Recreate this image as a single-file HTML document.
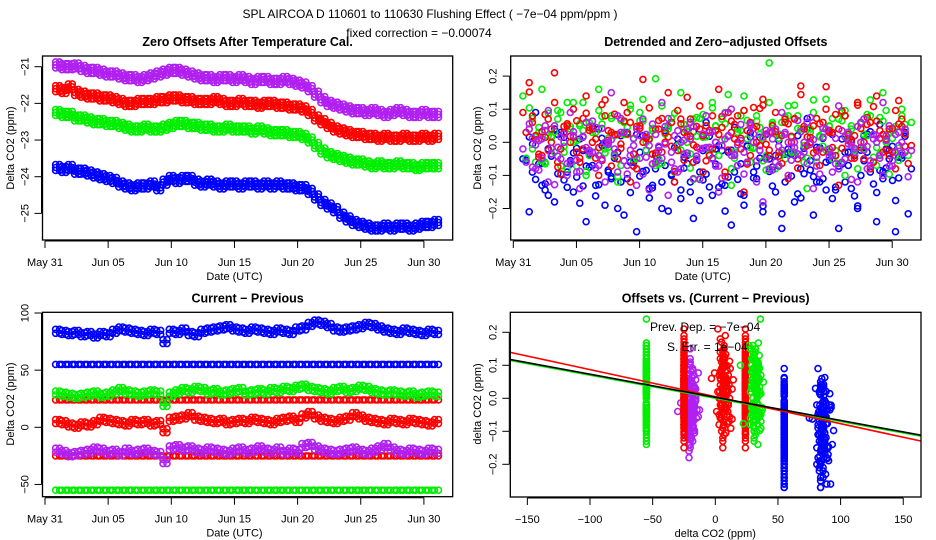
<!DOCTYPE html>
<html><head><meta charset="utf-8"><style>
html,body{margin:0;padding:0;background:#fff;}
svg{display:block;font-family:"Liberation Sans",Arial,sans-serif;}
</style></head><body>
<svg id="c" width="936" height="540" viewBox="0 0 936 540">
<text x="430" y="18" font-size="12" text-anchor="middle">SPL   AIRCOA D   110601 to 110630   Flushing Effect ( −7e−04 ppm/ppm )</text>
<text x="419" y="37" font-size="12" text-anchor="middle">fixed correction =  −0.00074</text>
</svg>
<script>
// ---------- DATA ----------
const dateTickLabels = ["May 31","Jun 05","Jun 10","Jun 15","Jun 20","Jun 25","Jun 30"];
const dateTickDays = [0,5,10,15,20,25,30];
const sampleDays = [1,1.5,2,2.5,3,3.5,4,4.5,5,5.5,6,6.5,7,7.5,8,8.5,9,9.5,10,10.5,11,11.5,12,12.5,13,13.5,14,14.5,15,15.5,16,16.5,17,17.5,18,18.5,19,19.5,20,20.5,21,21.5,22,22.5,23,23.5,24,24.5,25,25.5,26,26.5,27,27.5,28,28.5,29,29.5,30,30.5,31];

// Panel 1: zero offsets
const zeroPurple = [-20.95,-21.0,-21.0,-20.98,-21.05,-21.1,-21.1,-21.15,-21.2,-21.2,-21.25,-21.3,-21.3,-21.35,-21.3,-21.25,-21.2,-21.15,-21.1,-21.1,-21.15,-21.2,-21.25,-21.3,-21.3,-21.35,-21.3,-21.3,-21.35,-21.3,-21.35,-21.4,-21.35,-21.35,-21.4,-21.4,-21.35,-21.4,-21.45,-21.5,-21.6,-21.75,-21.9,-22.0,-22.05,-22.1,-22.15,-22.2,-22.2,-22.25,-22.2,-22.25,-22.3,-22.25,-22.2,-22.25,-22.3,-22.3,-22.25,-22.3,-22.3];
const zeroRed = [-21.6,-21.65,-21.55,-21.7,-21.75,-21.8,-21.8,-21.85,-21.85,-21.9,-21.95,-22.0,-22.0,-21.95,-21.95,-21.95,-21.9,-21.9,-21.85,-21.85,-21.9,-21.9,-21.95,-21.95,-21.95,-21.9,-21.95,-22.0,-22.0,-21.95,-22.0,-22.0,-22.05,-22.0,-22.0,-22.05,-22.05,-22.1,-22.1,-22.15,-22.25,-22.4,-22.5,-22.6,-22.7,-22.75,-22.8,-22.85,-22.85,-22.9,-22.9,-22.95,-22.9,-22.95,-22.95,-22.9,-22.95,-22.95,-22.9,-22.95,-22.9];
const zeroGreen = [-22.25,-22.3,-22.3,-22.4,-22.4,-22.45,-22.5,-22.5,-22.55,-22.55,-22.6,-22.65,-22.7,-22.7,-22.65,-22.7,-22.7,-22.65,-22.6,-22.55,-22.55,-22.6,-22.6,-22.65,-22.65,-22.7,-22.7,-22.65,-22.7,-22.7,-22.7,-22.75,-22.7,-22.75,-22.8,-22.8,-22.8,-22.85,-22.85,-22.9,-23.0,-23.15,-23.3,-23.4,-23.45,-23.5,-23.55,-23.6,-23.6,-23.65,-23.7,-23.65,-23.7,-23.7,-23.65,-23.7,-23.7,-23.75,-23.7,-23.7,-23.7];
const zeroBlue = [-23.75,-23.8,-23.75,-23.85,-23.85,-23.9,-23.95,-24.0,-24.05,-24.1,-24.2,-24.25,-24.3,-24.25,-24.25,-24.2,-24.3,-24.15,-24.05,-24.1,-24.05,-24.05,-24.15,-24.2,-24.15,-24.2,-24.25,-24.2,-24.2,-24.25,-24.2,-24.2,-24.25,-24.2,-24.25,-24.2,-24.25,-24.25,-24.3,-24.3,-24.4,-24.55,-24.7,-24.8,-24.9,-25.05,-25.15,-25.25,-25.3,-25.35,-25.4,-25.4,-25.35,-25.4,-25.35,-25.35,-25.4,-25.35,-25.3,-25.3,-25.25];
const zeroTicks = [-21,-22,-23,-24,-25];

// Panel 2: detrended offsets
const detBlue = [-0.05,-0.21,0.09,-0.13,-0.02,-0.18,0.03,-0.09,-0.15,0.01,-0.24,-0.07,0.04,-0.19,-0.11,-0.03,-0.22,-0.06,-0.27,0.02,-0.14,-0.08,-0.2,0.05,-0.12,-0.17,-0.04,-0.23,-0.09,0.06,-0.16,-0.01,-0.13,-0.25,-0.07,-0.19,0.03,-0.11,-0.21,-0.05,-0.15,-0.26,-0.02,-0.18,-0.08,0.04,-0.22,-0.12,-0.06,-0.17,-0.26,-0.03,-0.14,-0.2,0.02,-0.09,-0.24,-0.11,-0.05,-0.27,-0.04];
const detGreen = [0.14,0.04,-0.06,0.16,0.02,-0.03,0.09,-0.08,0.12,0.05,-0.1,0.03,0.16,-0.02,0.08,-0.12,0.06,0.1,-0.05,0.13,0.02,-0.07,0.11,0.04,-0.09,0.15,0.0,0.07,-0.11,0.05,0.12,-0.04,0.09,-0.13,0.03,0.14,-0.06,0.08,0.01,0.24,-0.08,0.06,0.11,-0.03,0.04,-0.14,0.09,0.02,0.13,-0.05,0.07,-0.1,0.05,0.12,-0.02,0.08,-0.07,0.15,0.03,-0.04,0.1];
const detRed = [0.09,0.18,0.02,-0.04,0.07,0.21,-0.02,0.05,0.1,-0.06,0.14,0.0,-0.1,0.08,0.03,-0.05,0.12,0.06,-0.08,0.19,0.01,0.04,-0.03,0.15,-0.12,0.07,0.02,-0.06,0.11,0.05,-0.02,0.16,-0.09,0.03,0.08,-0.15,0.06,0.0,0.13,-0.04,0.09,0.02,-0.11,0.07,0.17,-0.01,0.05,-0.07,0.1,0.03,-0.13,0.08,0.0,0.12,-0.05,0.06,0.14,-0.03,0.04,-0.08,0.07];
const detPurple = [-0.02,0.04,-0.08,0.01,-0.12,0.05,-0.05,-0.1,0.02,-0.14,0.06,-0.03,-0.07,0.0,0.15,-0.09,0.03,-0.04,-0.13,0.07,-0.01,-0.06,0.12,-0.16,0.02,-0.08,0.04,-0.11,-0.02,0.08,-0.05,-0.15,0.01,0.1,-0.07,-0.03,0.05,-0.12,-0.18,0.03,-0.06,0.09,-0.1,0.0,-0.04,0.06,-0.14,-0.02,0.04,-0.09,0.11,-0.05,-0.01,-0.12,0.07,-0.07,0.02,-0.1,0.05,-0.03,0.0];
const detTicks = [0.2,0.1,0.0,-0.1,-0.2];
const detTickLabels = ["0.2","0.1","0.0","-0.1","-0.2"];

// Panel 3: current - previous
const diffBlue = [84,83,82,83,81,82,80,82,81,84,86,85,84,83,82,84,83,75,84,83,85,82,81,84,85,86,87,88,86,85,84,86,85,84,83,85,84,83,86,87,90,92,91,89,86,85,86,87,88,90,89,87,85,84,83,85,84,83,82,84,83];
const diffGreen = [30,29,28,27,28,29,30,28,29,31,33,31,30,29,30,31,30,20,29,31,33,32,34,33,31,32,30,31,32,33,30,31,32,31,33,32,34,33,35,36,34,33,32,31,33,34,32,33,35,34,32,31,30,31,30,29,30,28,29,30,29];
const diffRed = [5,4,2,1,3,2,4,7,6,5,4,3,5,4,5,3,4,-3,7,8,9,11,8,7,6,5,6,4,5,6,5,7,6,5,4,6,7,8,6,10,12,9,7,6,5,7,8,11,9,7,6,5,4,6,5,4,6,5,4,3,5];
const diffPurple = [-20,-22,-24,-23,-22,-21,-19,-20,-22,-21,-23,-20,-22,-21,-20,-22,-23,-30,-18,-17,-19,-18,-20,-21,-19,-20,-21,-22,-20,-19,-21,-20,-18,-20,-21,-19,-22,-20,-21,-16,-15,-18,-20,-21,-22,-21,-20,-19,-21,-22,-20,-18,-16,-19,-21,-22,-20,-21,-22,-20,-21];
const constLevels = [55, 24, -25, -55];
const constColors = ["#0000ff","#ff0000","#ff0000","#00ee00"];
const diffTicks = [100,50,0,-50];

// Panel 4: regression
const regXTicks = [-150,-100,-50,0,50,100,150];
const regYTicks = [0.2,0.1,0.0,-0.1,-0.2];
const regYTickLabels = ["0.2","0.1","0.0","-0.1","-0.2"];
const lineIntercepts = [0.0, 0.005, 0.003];
const lineSlopes = [-0.0007, -0.00082, -0.0007];
const lineColors = ["#00ee00","#ff0000","#000000"];

// ---------- DRAW ----------
const svg = document.getElementById('c');
const NS = 'http://www.w3.org/2000/svg';
function mk(tag, attrs, parent){const e=document.createElementNS(NS,tag);for(const k in attrs)e.setAttribute(k,attrs[k]);(parent||svg).appendChild(e);return e;}
const PUR = "#b020f0";

const xDate1 = d => 45 + 12.63*d;
const xDate2 = d => 513.3 + 12.63*d;
const yZero = v => 66.7 + (-21 - v)*36.67;
const yDet = v => 142.3 - v*331;
const yDiff = v => 427.3 - v*1.143;
const xReg = v => 715.3 + v*1.253;
const yReg = v => 398.3 - v*330;

function panel(name, x0,y0,x1,y1,title){
  const g = mk('g',{});
  
  
  const cp = mk('clipPath',{id:name+'-clip'},g);
  mk('rect',{x:x0,y:y0,width:x1-x0,height:y1-y0},cp);
  const t = mk('text',{x:(x0+x1)/2,y:y0-10,'font-size':12.5,'font-weight':'bold','text-anchor':'middle'},g);
  t.textContent = title;
  
  
  const data = mk('g',{'clip-path':'url(#'+name+'-clip)'},g);
  
  
  const box = mk('rect',{x:x0,y:y0,width:x1-x0,height:y1-y0,fill:'none',stroke:'#000','stroke-width':1.3},g);
  
  
  return {g,data};
}
function xAxis(g,name,ticks,labels,fx,yb,title){
  mk('line',{x1:fx(ticks[0]),x2:fx(ticks[ticks.length-1]),y1:yb+1,y2:yb+1,stroke:'#000','stroke-width':1},g);
  ticks.forEach((d,i)=>{
    mk('line',{x1:fx(d),x2:fx(d),y1:yb+1,y2:yb+8,stroke:'#000','stroke-width':1},g);
    const t = mk('text',{x:fx(d),y:yb+26,'font-size':11,'text-anchor':'middle'},g);
    t.textContent = labels[i];
    
    
  });
  const tt = mk('text',{x:(fx(ticks[0])+fx(ticks[ticks.length-1]))/2,y:yb+40,'font-size':11,'text-anchor':'middle'},g);
  tt.textContent = title;
  
  
}
function yAxis(g,name,ticks,labels,fy,xl,titleX,yc,title){
  mk('line',{x1:xl-1,x2:xl-1,y1:fy(ticks[0]),y2:fy(ticks[ticks.length-1]),stroke:'#000','stroke-width':1},g);
  ticks.forEach((v,i)=>{
    mk('line',{x1:xl-1,x2:xl-8,y1:fy(v),y2:fy(v),stroke:'#000','stroke-width':1},g);
    const lx = xl-14;
    const t = mk('text',{x:lx,y:fy(v),'font-size':11,'text-anchor':'middle',transform:`rotate(-90 ${lx} ${fy(v)})`},g);
    t.textContent = labels[i];
    
    
  });
  const tt = mk('text',{x:titleX,y:yc,'font-size':11,'text-anchor':'middle',transform:`rotate(-90 ${titleX} ${yc})`},g);
  tt.textContent = title;
  
  
}
function dot(parent,x,y,col,nm){
  const c = mk('circle',{cx:x.toFixed(1),cy:y.toFixed(1),r:3,fill:'none',stroke:col,'stroke-width':1.6},parent);
  
  
}
function band(parent,xs,ys,fx,fy,col,nm,dys){
  const n=Math.min(xs.length,ys.length);
  for(let i=0;i<n;i++) for(const dy of dys) for(const dx of [-2,2]) dot(parent,fx(xs[i])+dx,fy(ys[i])+dy,col,nm);
}

// Panel 1
const p1 = panel('zero-offsets-panel',42.5,56,452.7,240,'Zero Offsets After Temperature Cal.');
band(p1.data,sampleDays,zeroBlue,xDate1,yZero,'#0000ff','zero-offset-blue-point',[-3,0,3]);
band(p1.data,sampleDays,zeroGreen,xDate1,yZero,'#00ee00','zero-offset-green-point',[-3,0,3]);
band(p1.data,sampleDays,zeroRed,xDate1,yZero,'#ff0000','zero-offset-red-point',[-3,0,3]);
band(p1.data,sampleDays,zeroPurple,xDate1,yZero,PUR,'zero-offset-purple-point',[-3,0,3]);
xAxis(p1.g,'zero-offsets',dateTickDays,dateTickLabels,xDate1,240,'Date (UTC)');
yAxis(p1.g,'zero-offsets',zeroTicks,zeroTicks.map(v=>'−'+Math.abs(v)),yZero,42.5,14,148,'Delta CO2 (ppm)');

// Panel 2
const p2 = panel('detrended-panel',510.7,56,921,240,'Detrended and Zero−adjusted Offsets');
const shifts = [[0,0,1],[3.2,7,0.6],[6.4,19,0.8],[9.6,31,0.5]];
[[detBlue,'#0000ff','blue'],[detGreen,'#00ee00','green'],[detRed,'#ff0000','red'],[detPurple,PUR,'purple']].forEach(([arr,col,n])=>{
  for(let i=0;i<Math.min(arr.length,sampleDays.length);i++){
    for(const [dx,off,sc] of shifts){
      dot(p2.data,xDate2(sampleDays[i])+dx-3,yDet(arr[(i+off)%arr.length]*sc),col,'detrended-'+n+'-point');
    }
  }
});
xAxis(p2.g,'detrended',dateTickDays,dateTickLabels,xDate2,240,'Date (UTC)');
yAxis(p2.g,'detrended',detTicks,detTickLabels.map(s=>s.replace('-','−')),yDet,510.7,481,148,'Delta CO2 (ppm)');

// Panel 3
const p3 = panel('current-previous-panel',42.5,312.3,452.7,496.7,'Current − Previous');
constLevels.forEach((lv,k)=>{
  for(let i=0;i<sampleDays.length;i++) for(const dx of [-2,2]) dot(p3.data,xDate1(sampleDays[i])+dx,yDiff(lv),constColors[k],'constant-level-point');
});
band(p3.data,sampleDays,diffBlue,xDate1,yDiff,'#0000ff','diff-blue-point',[-2,2]);
band(p3.data,sampleDays,diffGreen,xDate1,yDiff,'#00ee00','diff-green-point',[-2,2]);
band(p3.data,sampleDays,diffRed,xDate1,yDiff,'#ff0000','diff-red-point',[-2,2]);
band(p3.data,sampleDays,diffPurple,xDate1,yDiff,PUR,'diff-purple-point',[-2,2]);
xAxis(p3.g,'current-previous',dateTickDays,dateTickLabels,xDate1,496.7,'Date (UTC)');
yAxis(p3.g,'current-previous',diffTicks,diffTicks.map(v=>v<0?'−'+Math.abs(v):String(v)),yDiff,42.5,14,404,'Delta CO2 (ppm)');

// Panel 4
const p4 = panel('offsets-vs-diff-panel',510.3,312.3,921,497,'Offsets vs. (Current − Previous)');
const pairs = [
  [constLevels[3],null,detGreen,'#00ee00'],
  [null,diffPurple,detPurple,PUR],
  [constLevels[2],null,detRed,'#ff0000'],
  [null,diffRed,detRed,'#ff0000'],
  [constLevels[1],null,detRed,'#ff0000'],
  [null,diffGreen,detGreen,'#00ee00'],
  [constLevels[0],null,detBlue,'#0000ff'],
  [null,diffBlue,detBlue,'#0000ff']
];
pairs.forEach(([lv,xs,ys,col])=>{
  for(let i=0;i<ys.length;i++){
    const xv = xs? xs[i%xs.length] : lv;
    dot(p4.data,xReg(xv),yReg(ys[i]),col,'offset-vs-diff-point');
    dot(p4.data,xReg(xv)+(xs?3:0),yReg(ys[(i+11)%ys.length]*0.7),col,'offset-vs-diff-point');
  }
});
lineIntercepts.forEach((b,k)=>{
  const l = mk('line',{x1:xReg(-165),y1:yReg(b+lineSlopes[k]*-165),x2:xReg(165),y2:yReg(b+lineSlopes[k]*165),stroke:lineColors[k],'stroke-width':1.6},p4.data);
  
  
});
const t1 = mk('text',{x:650,y:331,'font-size':12},p4.g); t1.textContent='Prev. Dep. =  −7e−04';


const t2 = mk('text',{x:667,y:351,'font-size':12},p4.g); t2.textContent='S. Err. =  1e−04';


xAxis(p4.g,'offsets-vs-diff',regXTicks,regXTicks.map(v=>v<0?'−'+Math.abs(v):String(v)),xReg,497,'delta CO2 (ppm)');
yAxis(p4.g,'offsets-vs-diff',regYTicks,regYTickLabels.map(s=>s.replace('-','−')),yReg,510.3,481,404,'delta CO2 (ppm)');
</script>
</body></html>
